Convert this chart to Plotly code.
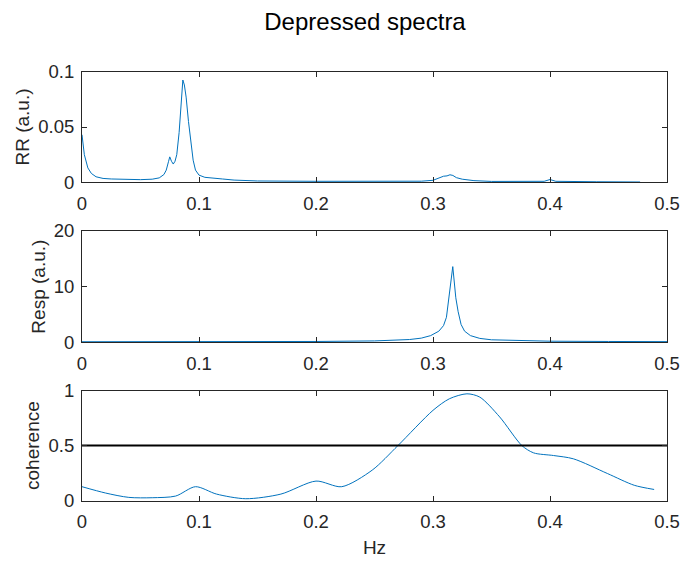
import plotly.graph_objects as go
from plotly.subplots import make_subplots

# RR interval spectrum
rr_freq = [0, 0.002, 0.005, 0.008, 0.012, 0.018, 0.025, 0.035, 0.05, 0.06, 0.066,
           0.07, 0.072, 0.074, 0.075, 0.0765, 0.078, 0.0795, 0.081, 0.083, 0.0845,
           0.0862, 0.0875, 0.089, 0.091, 0.093, 0.095, 0.097, 0.1, 0.105, 0.11,
           0.12, 0.13, 0.15, 0.2, 0.25, 0.29, 0.3, 0.305, 0.309, 0.312, 0.3145,
           0.317, 0.32, 0.325, 0.335, 0.35, 0.37, 0.395, 0.4, 0.405, 0.44, 0.477]
rr_power = [0.043, 0.025, 0.013, 0.008, 0.005, 0.0035, 0.003, 0.0025, 0.0024, 0.0028, 0.004,
            0.007, 0.011, 0.019, 0.023, 0.019, 0.0165, 0.019, 0.025, 0.045, 0.07,
            0.0925, 0.088, 0.077, 0.055, 0.038, 0.02, 0.011, 0.0065, 0.0045, 0.0038,
            0.003, 0.002, 0.0012, 0.0009, 0.0006, 0.001, 0.0018, 0.0035, 0.0055, 0.0058, 0.0068,
            0.0062, 0.0042, 0.0028, 0.0015, 0.0008, 0.0006, 0.0009, 0.0025, 0.0009, 0.0005, 0.0003]

# Respiration spectrum
resp_freq = [0, 0.1, 0.2, 0.25, 0.28, 0.29, 0.298, 0.305, 0.309, 0.3115, 0.314,
             0.3169, 0.3195, 0.3215, 0.324, 0.327, 0.332, 0.34, 0.35, 0.37, 0.4, 0.45, 0.5]
resp_power = [0.1, 0.1, 0.15, 0.25, 0.5, 0.75, 1.2, 2.0, 3.0, 4.5, 8.5,
              13.6, 8.0, 5.5, 3.2, 2.0, 1.2, 0.7, 0.45, 0.3, 0.2, 0.15, 0.12]

# Coherence between RR and respiration
coh_freq = [0, 0.02, 0.04, 0.06, 0.08, 0.097, 0.115, 0.14, 0.17, 0.2, 0.222, 0.248,
            0.27, 0.3, 0.314, 0.329, 0.34, 0.357, 0.376, 0.386, 0.403, 0.42, 0.449, 0.472, 0.489]
coh_value = [0.127, 0.07, 0.03, 0.027, 0.042, 0.127, 0.06, 0.018, 0.06, 0.178, 0.127, 0.277,
             0.5, 0.82, 0.925, 0.97, 0.94, 0.76, 0.5, 0.434, 0.41, 0.38, 0.247, 0.14, 0.102]
coh_threshold = 0.5

x_ticks = [0, 0.1, 0.2, 0.3, 0.4, 0.5]
rr_ticks = [0, 0.05, 0.1]
resp_ticks = [0, 10, 20]
coh_ticks = [0, 0.5, 1]

BLUE = "#0072BD"
AX = "#262626"
FONT = "Liberation Sans, Arial, Helvetica, sans-serif"
W, H = 681, 562

fig = make_subplots(rows=3, cols=1)

fig.add_trace(go.Scatter(x=rr_freq, y=rr_power, mode="lines",
                         line=dict(color=BLUE, width=1)), row=1, col=1)
fig.add_trace(go.Scatter(x=resp_freq, y=resp_power, mode="lines",
                         line=dict(color=BLUE, width=1)), row=2, col=1)
fig.add_trace(go.Scatter(x=coh_freq, y=coh_value, mode="lines",
                         line=dict(color=BLUE, width=1, shape="spline", smoothing=0.8)),
              row=3, col=1)
fig.add_trace(go.Scatter(x=[0, 0.5], y=[coh_threshold, coh_threshold], mode="lines",
                         line=dict(color="black", width=2)), row=3, col=1)

x_dom = [82 / W, 667 / W]
y_doms = [(71.7, 182.3), (231, 342.3), (390.5, 500.7)]
y_ranges = [[0, 0.1], [0, 20], [0, 1]]
y_tickvals = [rr_ticks, resp_ticks, coh_ticks]
y_titles = ["RR (a.u.)", "Resp (a.u.)", "coherence"]

axis_common = dict(
    showline=True, linecolor=AX, linewidth=1, mirror="allticks",
    ticks="inside", ticklen=5, tickwidth=1, tickcolor=AX,
    showgrid=False, zeroline=False, automargin=False,
    tickfont=dict(family=FONT, size=18.5, color=AX),
)

for i in range(3):
    top, bot = y_doms[i]
    fig.update_xaxes(domain=x_dom, range=[0, 0.5], tickvals=x_ticks,
                     ticktext=[f"{v:g}" for v in x_ticks], ticklabelstandoff=4,
                     row=i + 1, col=1, **axis_common)
    fig.update_yaxes(domain=[1 - bot / H, 1 - top / H], range=y_ranges[i],
                     tickvals=y_tickvals[i],
                     ticktext=[f"{v:g}" for v in y_tickvals[i]], ticklabelstandoff=3,
                     title=dict(text=y_titles[i], font=dict(family=FONT, size=19, color=AX),
                                standoff=3),
                     row=i + 1, col=1, **axis_common)

fig.update_xaxes(title=dict(text="Hz", font=dict(family=FONT, size=19, color=AX), standoff=9),
                 row=3, col=1)

fig.update_layout(
    width=W, height=H,
    margin=dict(l=0, r=0, t=0, b=0),
    paper_bgcolor="white", plot_bgcolor="white",
    showlegend=False,
    title=dict(text="Depressed spectra", x=365 / W, xanchor="center",
               y=1 - 22 / H, yanchor="middle",
               font=dict(family=FONT, size=24, color="black")),
)

fig.write_html("out.html")
